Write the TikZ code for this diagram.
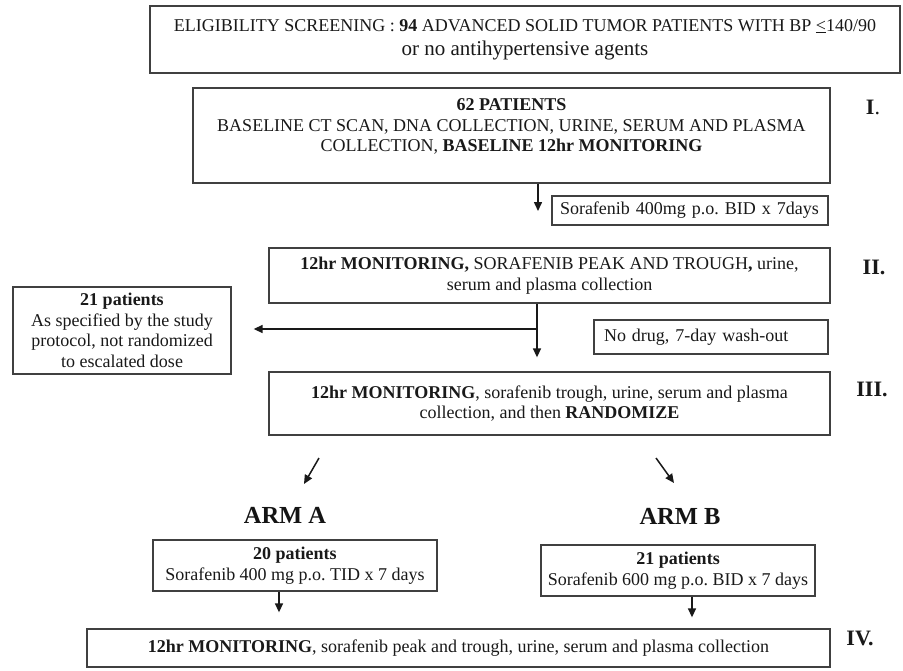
\documentclass[tikz,border=0pt]{standalone}
\usepackage{fontspec}
\setmainfont{Liberation Serif}
\usetikzlibrary{arrows.meta}
\begin{document}
\frenchspacing
\begin{tikzpicture}[x=1pt,y=-1pt,
  box/.style={draw=black!75, line width=1.3pt, rectangle, inner sep=0pt, align=center,
    font=\fontsize{18}{20.5}\selectfont, text=black!90},
  leftbox/.style={box, align=left},
  arr/.style={line width=1.5pt, draw=black!90, -{Triangle[length=9pt,width=8pt]}},
  lbl/.style={font=\fontsize{22}{24}\selectfont\bfseries, inner sep=0pt, text=black!90},
  arm/.style={font=\fontsize{24.5}{26}\selectfont\bfseries, inner sep=0pt, text=black!92}
]
\useasboundingbox (0,0) rectangle (903,670);
\fill[white] (0,0) rectangle (903,670);

\node[box, font=\fontsize{18}{24}\selectfont, minimum width=750pt, minimum height=67pt] (elig) at (525,39.5)
  {ELIGIBILITY SCREENING : \textbf{94} ADVANCED SOLID TUMOR PATIENTS WITH BP \underline{<}140/90\\
   {\fontsize{21}{24}\selectfont or no antihypertensive agents}};

\node[box, minimum width=637pt, minimum height=95pt] (bI) at (511.5,135.5)
  {\textbf{62 PATIENTS}\\BASELINE CT SCAN, DNA COLLECTION, URINE, SERUM AND PLASMA\\COLLECTION, \textbf{BASELINE 12hr MONITORING}\\\mbox{}};
\node[lbl] (lI) at (873,107) {I\textmd{.}};

\node[leftbox, inner xsep=8pt, text width=260pt, minimum height=29pt] (bS) at (690,210.5)
  {Sorafenib 400mg p.o. BID x 7days};

\node[box, minimum width=561pt, minimum height=55pt] (bII) at (549.5,275.5)
  {\textbf{12hr MONITORING,} SORAFENIB PEAK AND TROUGH\textbf{,} urine,\\serum and plasma collection};
\node[lbl] (lII) at (874,267) {II.};

\node[box, minimum width=218pt, minimum height=87pt] (b21) at (122,330.5)
  {\textbf{21 patients}\\As specified by the study\\protocol, not randomized\\to escalated dose};

\node[leftbox, inner xsep=10pt, text width=214pt, minimum height=34pt] (bND) at (711,337)
  {No drug, 7-day wash-out};

\node[box, minimum width=561pt, minimum height=63pt] (bIII) at (549.5,403.5)
  {\textbf{12hr MONITORING}, sorafenib trough, urine, serum and plasma\\collection, and then \textbf{RANDOMIZE}};
\node[lbl] (lIII) at (872,389) {III.};

\node[arm] (armA) at (285,515) {ARM A};
\node[arm] (armB) at (680,516) {ARM B};

\node[box, minimum width=284pt, minimum height=51pt] (b20) at (295,565.5)
  {\textbf{20 patients}\\Sorafenib 400 mg p.o. TID x 7 days};
\node[box, minimum width=274pt, minimum height=51pt] (b21B) at (678,570.5)
  {\textbf{21 patients}\\Sorafenib 600 mg p.o. BID x 7 days};

\node[box, minimum width=743pt, minimum height=38pt] (bIV) at (458.5,648)
  {\textbf{12hr MONITORING}, sorafenib peak and trough, urine, serum and plasma collection};
\node[lbl] (lIV) at (860,638) {IV.};

% connectors
\coordinate (c1) at (538,211);
\draw[arr] (bI.south -| c1) -- (c1);

\coordinate (c2) at (537,0);
\draw[arr, shorten >=14pt] (bII.south -| c2) -- (bIII.north -| c2);
\coordinate (c3) at (537,329);
\draw[arr, shorten >=22pt] (c3) -- (b21.east |- c3);

\coordinate (dA1) at (319,458);
\coordinate (dA2) at (304,484);
\draw[arr] (dA1) -- (dA2);
\coordinate (dB1) at (656,458);
\coordinate (dB2) at (674,483);
\draw[arr] (dB1) -- (dB2);

\coordinate (c4) at (279,0);
\draw[arr, shorten >=16pt] (b20.south -| c4) -- (bIV.north -| c4);
\coordinate (c5) at (692,0);
\draw[arr, shorten >=11pt] (b21B.south -| c5) -- (bIV.north -| c5);
\end{tikzpicture}
\end{document}
